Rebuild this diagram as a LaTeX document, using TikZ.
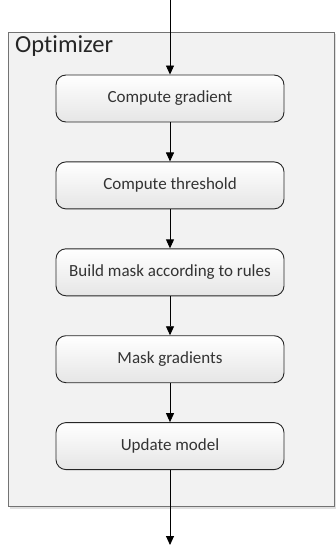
\documentclass[tikz,border=0pt]{standalone}
\usepackage{fontspec}
\setmainfont[RawFeature=-liga]{Carlito}
\usetikzlibrary{arrows.meta,positioning}

\tikzset{
  stepbox/.style={rectangle, rounded corners=10pt, draw=black!85, line width=0.9pt,
    top color=white, bottom color=black!10, minimum width=228pt, minimum height=47pt,
    font=\fontsize{17}{20}\selectfont, text=black!80},
  flow/.style={-{Triangle[length=9pt,width=8pt]}, line width=0.9pt}
}

\begin{document}
\begin{tikzpicture}[x=1pt,y=-1pt,node distance=39pt]
\useasboundingbox (0,0) rectangle (335,545);

% optimizer frame
\fill[black!12] (10,34) rectangle (336,509);
\draw[draw=black!55, fill=black!5, line width=0.8pt] (8,32) rectangle (334,506);
\node[anchor=north west, font=\fontsize{24.5}{28}\selectfont, text=black!85, inner sep=0pt] (opt) at (15,35) {Optimizer};

\coordinate (in) at (170,0);
\node[stepbox] (grad) at (170,98.5) {Compute gradient};
\node[stepbox, below=of grad] (thr) {Compute threshold};
\node[stepbox, below=of thr] (mask) {Build mask according to rules};
\node[stepbox, below=of mask] (mgrad) {Mask gradients};
\node[stepbox, below=of mgrad] (upd) {Update model};
\coordinate (out) at (170,545);

\draw[flow] (in) -- (grad);
\draw[flow] (grad) -- (thr);
\draw[flow] (thr) -- (mask);
\draw[flow] (mask) -- (mgrad);
\draw[flow] (mgrad) -- (upd);
\draw[flow] (upd) -- (out);

\end{tikzpicture}
\end{document}
